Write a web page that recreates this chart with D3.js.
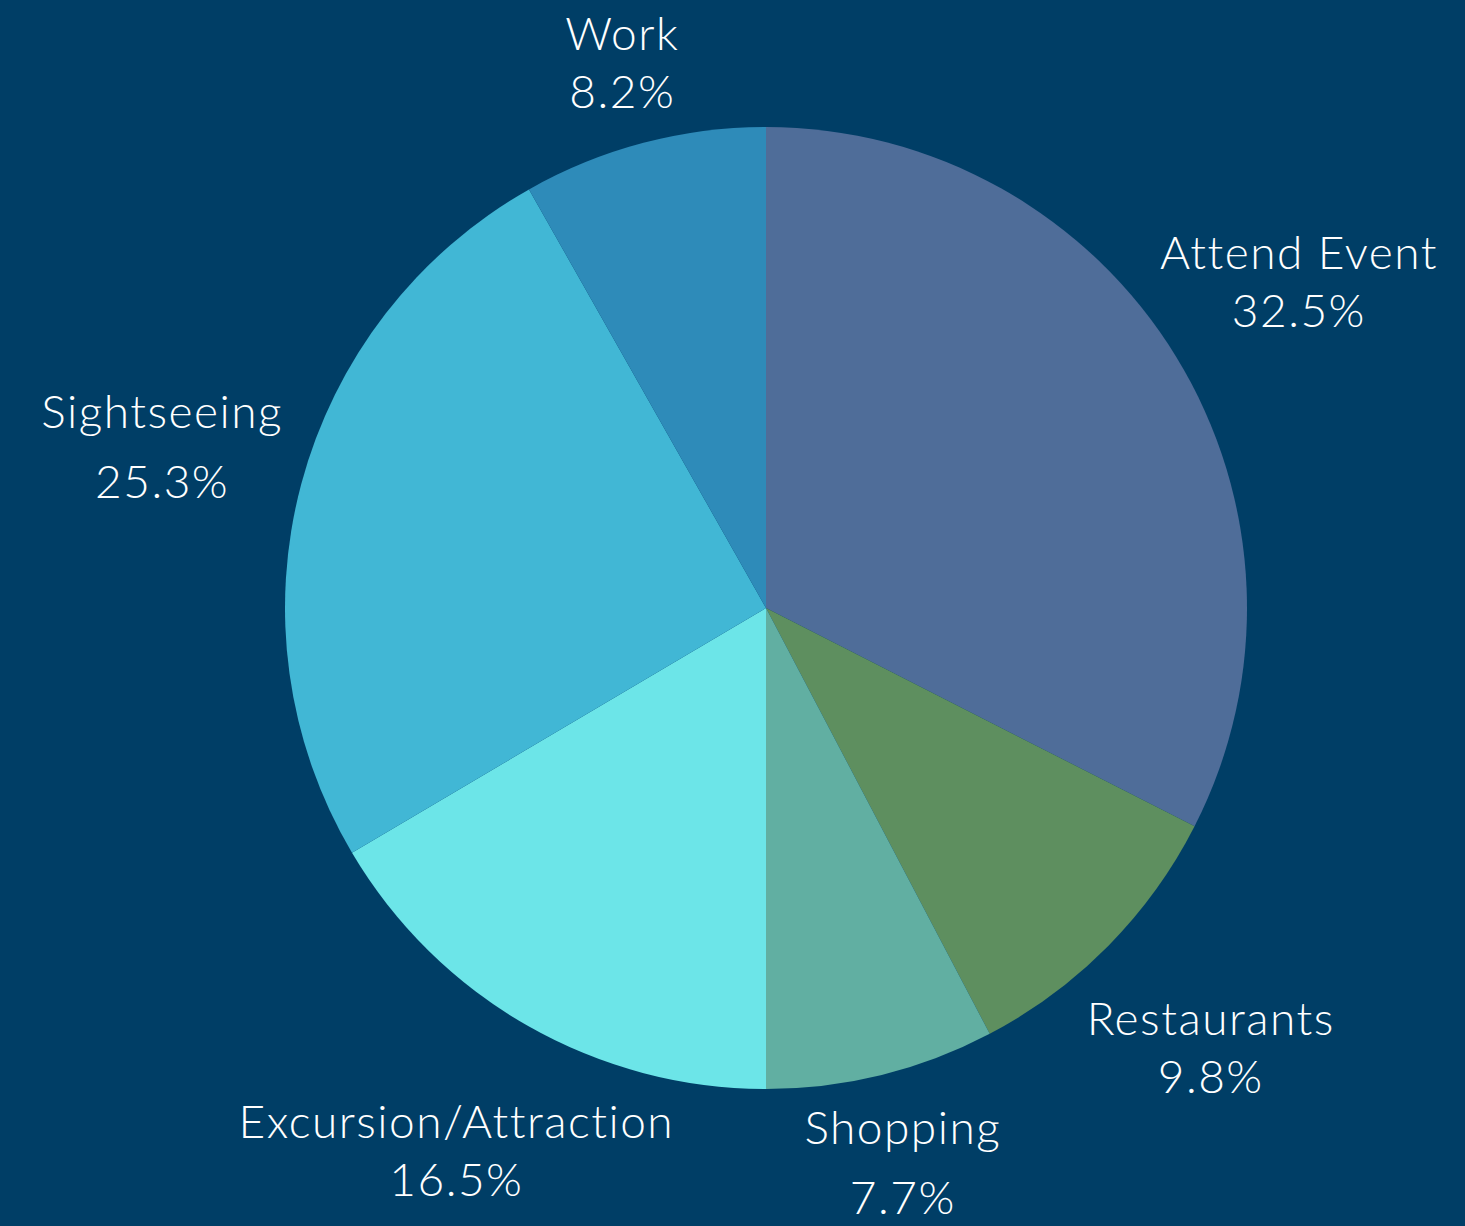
<!DOCTYPE html>
<html>
<head>
<meta charset="utf-8">
<script src="https://cdn.jsdelivr.net/npm/d3@7"></script>
<style>
  html, body { margin: 0; padding: 0; background: #003e66; }
  svg { display: block; }
</style>
</head>
<body>
<div id="viz-container"></div>
<script>
// chart data
let categories = ["Attend Event", "Restaurants", "Shopping", "Excursion/Attraction", "Sightseeing", "Work"];
let shares = [32.5, 9.8, 7.7, 16.5, 25.3, 8.2];
let colors = ["#4f6d99", "#5e8f5f", "#61afa2", "#6ce5e8", "#41b7d5", "#2e8bb9"];

let width = 1465, height = 1226;
let cx = 766, cy = 608, radius = 481;
let labelRadius = 625;
let fontSize = 46, capH = 33;
let topLimit = 17, bottomLimit = 1214;

let viz = d3.select("#viz-container")
  .append("svg")
    .attr("width", width)
    .attr("height", height)
;
viz.append("rect")
  .attr("width", width)
  .attr("height", height)
  .attr("fill", "#003e66")
;

let data = categories.map(function(c, i){
  return {name: c, value: shares[i], color: colors[i]};
});

let pie = d3.pie().sort(null).value(function(d){ return d.value; });
let arc = d3.arc().innerRadius(0).outerRadius(radius);
let arcs = pie(data);

let g = viz.append("g").attr("transform", "translate(" + cx + "," + cy + ")");

g.selectAll(".slice").data(arcs).enter()
  .append("path")
    .attr("class", "slice")
    .attr("d", arc)
    .attr("fill", function(d){ return d.data.color; })
;

// labels sit on the mid-angle ray, pulled in if they would leave the canvas
function lineGap(d){
  return /[gjpqy]/.test(d.data.name) ? 70 : 58;
}
function labelPos(d){
  let a = (d.startAngle + d.endAngle) / 2;
  let dx = Math.sin(a), dy = -Math.cos(a);
  let half = (lineGap(d) + capH) / 2;
  let r = labelRadius;
  let y = cy + r * dy;
  if (y - half < topLimit) r = (cy - topLimit - half) / -dy;
  if (y + half > bottomLimit) r = (bottomLimit - half - cy) / dy;
  return {x: cx + r * dx, y: cy + r * dy};
}

let labels = viz.selectAll(".label").data(arcs).enter()
  .append("text")
    .attr("class", "label")
    .attr("text-anchor", "middle")
    .attr("font-family", "Lato, sans-serif")
    .attr("font-weight", 300)
    .attr("letter-spacing", 1.5)
    .attr("font-size", fontSize)
    .attr("fill", "#ffffff")
    .attr("transform", function(d){
      let p = labelPos(d);
      let y1 = p.y - (lineGap(d) - capH) / 2;
      return "translate(" + p.x + "," + y1 + ")";
    })
;
labels.append("tspan")
  .attr("x", 0)
  .attr("y", 0)
  .text(function(d){ return d.data.name; })
;
labels.append("tspan")
  .attr("x", 0)
  .attr("y", lineGap)
  .text(function(d){ return d.data.value.toFixed(1) + "%"; })
;
</script>
</body>
</html>
